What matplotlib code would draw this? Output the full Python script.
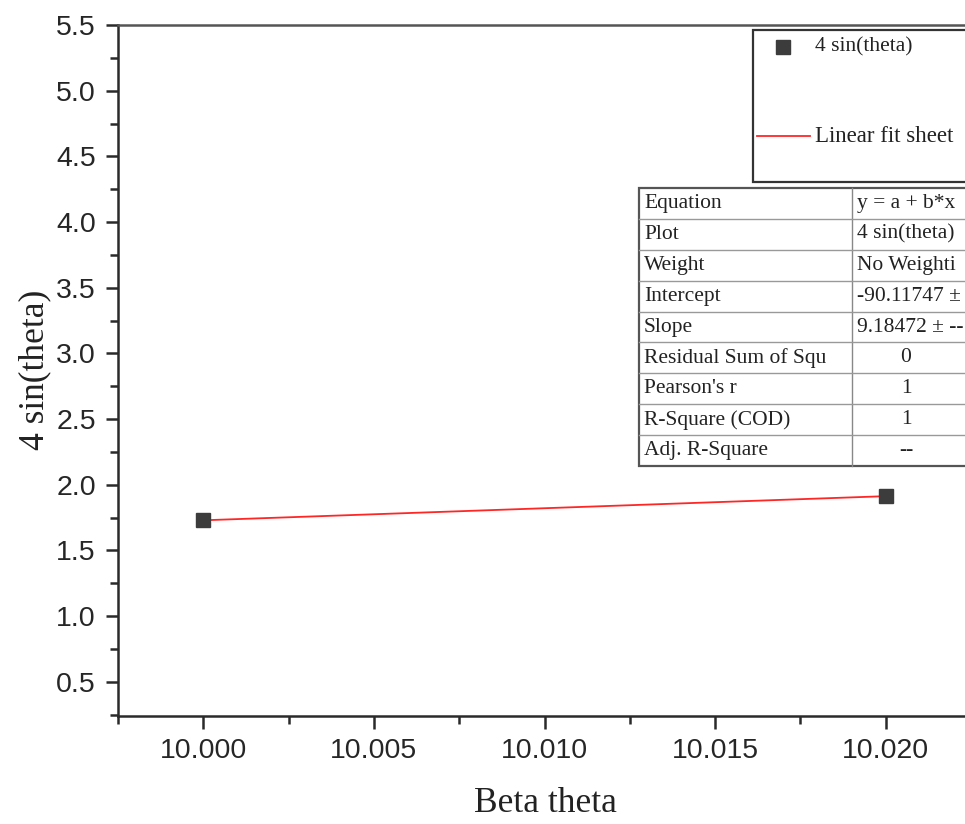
import numpy as np
import matplotlib.pyplot as plt
from matplotlib.patches import Rectangle
from matplotlib.lines import Line2D

# measured points
beta_theta = np.array([10.000, 10.020])
four_sin_theta = np.array([1.72973, 1.91342])

# linear fit results
fit_intercept = -90.11747
fit_slope = 9.18472

table_names = ["Equation", "Plot", "Weight", "Intercept", "Slope",
               "Residual Sum of Squ", "Pearson's r", "R-Square (COD)", "Adj. R-Square"]
table_values = ["y = a + b*x", "4 sin(theta)", "No Weighti", "-90.11747 \u00b1",
                "9.18472 \u00b1 --", "0", "1", "1", "--"]

W, H = 965, 824
fig = plt.figure(figsize=(W / 100, H / 100), dpi=100)

# axes run slightly past the right edge of the figure
ax = fig.add_axes([118 / W, (H - 716) / H, (971 - 118) / W, (716 - 25) / H])

fit_y = fit_intercept + fit_slope * beta_theta
ax.plot(beta_theta, fit_y, color="#ff2626", lw=1.3, zorder=2)
ax.plot(beta_theta, four_sin_theta, "s", color="#3c3c3c", ms=10.5, zorder=3)

ax.set_xlim(9.99755, 10.02245)
ax.set_ylim(0.24, 5.5)
ax.set_xticks([10.000, 10.005, 10.010, 10.015, 10.020])
ax.set_xticks(np.arange(9.9975, 10.0225, 0.0025), minor=True)
ax.set_yticks(np.arange(0.5, 5.51, 0.5))
ax.set_yticks(np.arange(0.25, 5.51, 0.25), minor=True)
ax.xaxis.set_major_formatter(plt.FormatStrFormatter("%.3f"))
ax.yaxis.set_major_formatter(plt.FormatStrFormatter("%.1f"))

for s in ax.spines.values():
    s.set_linewidth(1.8)
    s.set_color("#2a2a2a")
ax.spines["top"].set_color("#555555")

ax.tick_params(which="both", direction="out", width=1.8, color="#2a2a2a",
               top=False, right=False)
ax.tick_params(which="major", length=9, pad=7, labelsize=20.5, labelcolor="#262626")
ax.tick_params(which="minor", length=5.5)
for lab in ax.get_xticklabels() + ax.get_yticklabels():
    lab.set_fontfamily("Liberation Sans")

serif = "Liberation Serif"
fig.text(545 / W, 1 - 803 / H, "Beta theta", family=serif, fontsize=25.5,
         color="#222222", ha="center", va="center")
fig.text(35 / W, 1 - 370 / H, "4 sin(theta)", family=serif, fontsize=25.5,
         color="#222222", ha="center", va="center", rotation=90)

# overlay in pixel units for the legend box and the fit table
ov = fig.add_axes([0, 0, 1, 1], zorder=5)
ov.set_xlim(0, W)
ov.set_ylim(H, 0)
ov.axis("off")
ov.patch.set_alpha(0)

ov.add_patch(Rectangle((753, 30), 240, 152, fill=True, facecolor="white",
                       edgecolor="#333333", lw=1.6))
ov.plot([783], [47], "s", color="#3c3c3c", ms=10)
ov.text(815, 47, "4 sin(theta)", family=serif, fontsize=15.5, color="#222222", va="center")
ov.add_line(Line2D([757, 810], [136, 136], color="#ff2626", lw=1.3))
ov.text(815, 136, "Linear fit sheet", family=serif, fontsize=16.5, color="#222222",
        va="center")

tx0, tx1, tx2 = 639, 852, 968
ty0, ty1 = 188, 466
rh = (ty1 - ty0) / len(table_names)
ov.add_patch(Rectangle((tx0, ty0), tx2 - tx0, ty1 - ty0, facecolor="white",
                       edgecolor="#555555", lw=1.6))
ov.add_line(Line2D([tx1, tx1], [ty0, ty1], color="#888888", lw=1.0))
for i, (name, val) in enumerate(zip(table_names, table_values)):
    yc = ty0 + (i + 0.5) * rh
    if i > 0:
        ov.add_line(Line2D([tx0, tx2], [ty0 + i * rh] * 2, color="#999999", lw=1.0))
    ov.text(tx0 + 5, yc, name, family=serif, fontsize=15.5, color="#222222", va="center")
    if i < 5:
        ov.text(tx1 + 5, yc, val, family=serif, fontsize=15.5, color="#222222", va="center")
    else:
        ov.text((tx1 + tx2) / 2 - 4, yc, val, family=serif, fontsize=15.5, color="#222222",
                va="center", ha="center")

fig.savefig("out.png", dpi=100)
